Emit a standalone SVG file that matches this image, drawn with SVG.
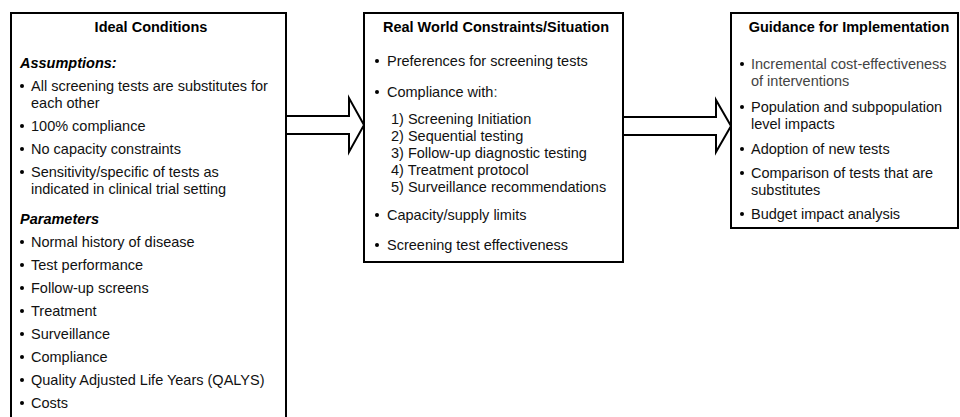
<svg xmlns="http://www.w3.org/2000/svg" width="960" height="417" viewBox="0 0 960 417">
<style>
.box{fill:#fff;stroke:#000;stroke-width:2}
.arr{fill:#fff;stroke:#000;stroke-width:2;stroke-linejoin:miter}
text{font-family:"Liberation Sans",Arial,sans-serif;font-size:14.5px;fill:#111}
.t{font-weight:bold;text-anchor:middle;fill:#000}
.h{font-weight:bold;font-style:italic;fill:#000}
.g{fill:#444}
.b{fill:#000}
</style>
<rect width="960" height="417" fill="#fff"/>
<g id="connectors">
<polygon class="arr" points="286,116 349,116 349,98 364,125 349,152 349,134 286,134"/>
<polygon class="arr" points="623,117 716,117 716,100 731,126 716,152 716,135 623,135"/>
</g>
<g id="ideal">
<rect class="box" x="11" y="13" width="275" height="420"/>
<text class="t" x="151" y="32">Ideal Conditions</text>
<text class="h" x="20" y="68">Assumptions:</text>
<g class="b"><circle cx="22" cy="86" r="2"/><circle cx="22" cy="126" r="2"/><circle cx="22" cy="149" r="2"/><circle cx="22" cy="172" r="2"/></g>
<text x="31" y="91">All screening tests are substitutes for</text>
<text x="31" y="108">each other</text>
<text x="31" y="131">100% compliance</text>
<text x="31" y="154">No capacity constraints</text>
<text x="31" y="177">Sensitivity/specific of tests as</text>
<text x="31" y="194">indicated in clinical trial setting</text>
<text class="h" x="20" y="224">Parameters</text>
<g class="b"><circle cx="22" cy="242" r="2"/><circle cx="22" cy="265" r="2"/><circle cx="22" cy="288" r="2"/><circle cx="22" cy="311" r="2"/><circle cx="22" cy="334" r="2"/><circle cx="22" cy="357" r="2"/><circle cx="22" cy="380" r="2"/><circle cx="22" cy="403" r="2"/></g>
<text x="31" y="247">Normal history of disease</text>
<text x="31" y="270">Test performance</text>
<text x="31" y="293">Follow-up screens</text>
<text x="31" y="316">Treatment</text>
<text x="31" y="339">Surveillance</text>
<text x="31" y="362">Compliance</text>
<text x="31" y="385">Quality Adjusted Life Years (QALYS)</text>
<text x="31" y="408">Costs</text>
</g>
<g id="realworld">
<rect class="box" x="364" y="13" width="259" height="249"/>
<text class="t" x="496" y="32">Real World Constraints/Situation</text>
<g class="b"><circle cx="377" cy="61" r="2"/><circle cx="377" cy="92" r="2"/><circle cx="377" cy="215" r="2"/><circle cx="377" cy="245" r="2"/></g>
<text x="387" y="66">Preferences for screening tests</text>
<text x="387" y="97">Compliance with<tspan class="g">:</tspan></text>
<text x="391" y="124">1) Screening Initiation</text>
<text x="391" y="141">2) Sequential testing</text>
<text x="391" y="158">3) Follow-up diagnostic testing</text>
<text x="391" y="175">4) Treatment protocol</text>
<text x="391" y="192">5) Surveillance recommendations</text>
<text x="387" y="220">Capacity/supply limits</text>
<text x="387" y="250">Screening test effectiveness</text>
</g>
<g id="guidance">
<rect class="box" x="731" y="13" width="227" height="215"/>
<text class="t" x="849" y="32">Guidance for Implementation</text>
<g class="b"><circle cx="742" cy="64" r="2"/><circle cx="742" cy="107" r="2"/><circle cx="742" cy="149" r="2"/><circle cx="742" cy="173" r="2"/><circle cx="742" cy="214" r="2"/></g>
<text class="g" x="751" y="69">Incremental cost-effectiveness</text>
<text class="g" x="751" y="86">of interventions</text>
<text x="751" y="112">Population and subpopulation</text>
<text x="751" y="129">level impacts</text>
<text x="751" y="154">Adoption of new tests</text>
<text x="751" y="178">Comparison of tests that are</text>
<text x="751" y="195">substitutes</text>
<text x="751" y="219">Budget impact analysis</text>
</g>
</svg>
